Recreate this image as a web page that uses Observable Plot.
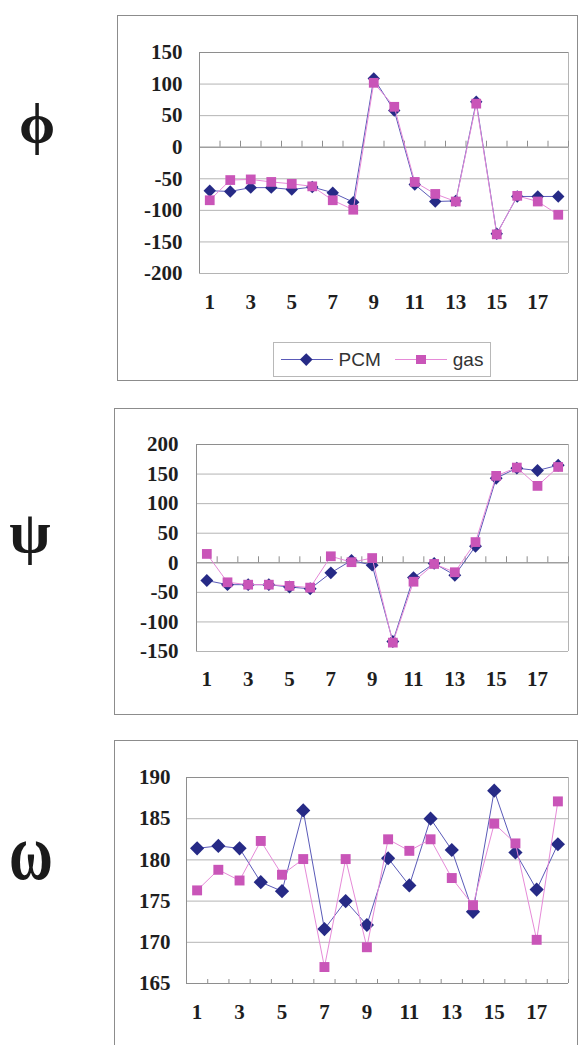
<!DOCTYPE html>
<html>
<head>
<meta charset="utf-8">
<script src="https://cdn.jsdelivr.net/npm/d3@7"></script>
<script src="https://cdn.jsdelivr.net/npm/@observablehq/plot@0.6"></script>
<style>
  html, body { margin: 0; padding: 0; background: #fff; }
  body { width: 580px; height: 1045px; overflow: hidden; position: relative; }
  .frame { position: absolute; border: 1.5px solid #8c8c8c; box-sizing: border-box; }
  .panel { position: absolute; left: 0; }
  .panel text { font-family: "Liberation Serif", "Times New Roman", serif; font-weight: bold; }
  .greek { position: absolute; font-family: "Liberation Serif", "DejaVu Serif", serif; color: #1a1a1a; line-height: 1; transform: translate(-50%, -50%); }
  .legend { position: absolute; border: 1px solid #b8b8b8; box-sizing: border-box; background: #fff;
            font-family: "Liberation Sans", Arial, sans-serif; font-size: 19px; color: #333;
            display: flex; align-items: center; justify-content: center; gap: 6px; }
  .sw { position: relative; display: inline-block; width: 52px; height: 12px; }
  .sw .ln { position: absolute; left: 0; right: 0; top: 5.5px; height: 0; border-top: 1px solid; }
  .sw .mk { position: absolute; left: 50%; top: 50%; }
</style>
</head>
<body>
<div id="root"></div>
<script>
// ---------------- data ----------------
const residues = [1,2,3,4,5,6,7,8,9,10,11,12,13,14,15,16,17,18];
const xTickLabels = [1,3,5,7,9,11,13,15,17];

const phiPCM = [-69,-70,-64,-64,-67,-63,-72,-87,109,58,-59,-86,-85,72,-137,-78,-78,-78];
const phiGas = [-84,-52,-51,-55,-58,-62,-84,-99,102,64,-55,-74,-86,69,-138,-77,-86,-107];
const phiTicks = [-200,-150,-100,-50,0,50,100,150];

const psiPCM = [-30,-37,-37,-37,-41,-44,-17,4,-4,-133,-25,-1,-21,28,143,160,156,165];
const psiGas = [15,-33,-37,-37,-39,-42,11,1,8,-135,-32,-2,-16,35,147,161,130,162];
const psiTicks = [-150,-100,-50,0,50,100,150,200];

const omegaPCM = [181.4,181.7,181.4,177.3,176.2,186.0,171.6,175.0,172.1,180.2,176.9,185.0,181.2,173.7,188.4,180.9,176.4,181.9];
const omegaGas = [176.3,178.8,177.5,182.3,178.2,180.1,167.0,180.1,169.4,182.5,181.1,182.5,177.8,174.5,184.4,182.0,170.3,187.1];
const omegaTicks = [165,170,175,180,185,190];

const seriesNames = ["PCM", "gas"];
// ---------------- styles ----------------
const pcmLine = "#5a5ab8", pcmMark = "#262a86";
const gasLine = "#e68ad8", gasMark = "#c955b8";
const gridColor = "#b4b4b4", axisColor = "#8e8e8e";
const tickFont = {fontFamily: "Liberation Serif", fontSize: 21, fontWeight: "bold"};
const fmt = d => String(d);   // plain hyphen-minus, as in the original

function addDiv(cls, css, html) {
  const d = document.createElement("div");
  d.className = cls;
  Object.assign(d.style, css);
  if (html != null) d.innerHTML = html;
  document.body.appendChild(d);
  return d;
}

function panel(cfg) {
  const pcm = residues.map((r, i) => ({r, v: cfg.pcm[i]}));
  const gas = residues.map((r, i) => ({r, v: cfg.gas[i]}));
  const ymin = cfg.ticks[0], ymax = cfg.ticks[cfg.ticks.length - 1];
  const bounds = d3.range(0.5, residues.length + 1, 1);
  const svg = Plot.plot({
    width: 580,
    height: cfg.height,
    marginTop: cfg.mt, marginBottom: cfg.mb, marginLeft: cfg.ml, marginRight: 12,
    style: {color: "#1e1e1e", background: "transparent", overflow: "visible", fontFamily: "Liberation Serif"},
    x: {domain: [0.5, residues.length + 0.5], label: null},
    y: {domain: [ymin, ymax], label: null},
    marks: [
      Plot.ruleY(cfg.ticks, {stroke: gridColor, strokeWidth: 1}),
      Plot.ruleY([ymax], {stroke: axisColor, strokeWidth: 1}),
      Plot.ruleX([residues.length + 0.5], {stroke: gridColor, strokeWidth: 1}),
      Plot.ruleX([0.5], {stroke: axisColor, strokeWidth: 1}),
      Plot.ruleY([cfg.base], {stroke: axisColor, strokeWidth: 1}),
      Plot.ruleX(bounds, {x: d => d, y1: cfg.base, y2: cfg.base, insetTop: -cfg.tick, stroke: axisColor, strokeWidth: 1}),
      Plot.axisY(cfg.ticks, {tickSize: 0, tickPadding: cfg.yp, label: null, tickFormat: fmt, ...tickFont}),
      Plot.axisX(xTickLabels, {tickSize: 0, tickPadding: cfg.xp, label: null, tickFormat: fmt, ...tickFont}),
      Plot.line(pcm, {x: "r", y: "v", stroke: pcmLine, strokeWidth: 1}),
      Plot.dot(pcm, {x: "r", y: "v", symbol: "diamond2", r: cfg.rd, fill: pcmMark, stroke: "none"}),
      Plot.line(gas, {x: "r", y: "v", stroke: gasLine, strokeWidth: 1}),
      Plot.dot(gas, {x: "r", y: "v", symbol: "square", r: cfg.rs, fill: gasMark, stroke: "none"})
    ]
  });
  svg.classList.add("panel");
  svg.style.top = cfg.top + "px";
  svg.style.position = "absolute";
  svg.style.left = "0px";
  document.body.appendChild(svg);
}

// frames
addDiv("frame", {left: "117px", top: "15px", width: "461px", height: "366px"});
addDiv("frame", {left: "114px", top: "408px", width: "464px", height: "307px"});
addDiv("frame", {left: "114px", top: "740px", width: "464px", height: "330px"});

panel({pcm: phiPCM, gas: phiGas, ticks: phiTicks, base: 0, top: 0, height: 380, mt: 52, mb: 107, ml: 199, yp: 17, xp: 21, tick: 6, rd: 5.6, rs: 5.5});
panel({pcm: psiPCM, gas: psiGas, ticks: psiTicks, base: 0, top: 400, height: 320, mt: 44, mb: 69, ml: 196, yp: 18, xp: 20, tick: 6, rd: 5.8, rs: 5.5});
panel({pcm: omegaPCM, gas: omegaGas, ticks: omegaTicks, base: 165, top: 730, height: 315, mt: 47, mb: 62, ml: 186, yp: 16, xp: 21, tick: 4, rd: 6.4, rs: 5.6});

// legend
const mkD = `<span class="mk" style="width:8.5px;height:8.5px;margin:-4.25px 0 0 -4.25px;background:${pcmMark};transform:rotate(45deg)"></span>`;
const mkS = `<span class="mk" style="width:9.5px;height:9.5px;margin:-4.75px 0 0 -4.75px;background:${gasMark}"></span>`;
addDiv("legend", {left: "273px", top: "342px", width: "218px", height: "35px"},
  `<span class="sw"><span class="ln" style="border-color:${pcmLine}"></span>${mkD}</span><span>${seriesNames[0]}</span>` +
  `<span class="sw" style="margin-left:8px"><span class="ln" style="border-color:${gasLine}"></span>${mkS}</span><span>${seriesNames[1]}</span>`);

// greek labels
addDiv("greek", {left: "37px", top: "124px", fontSize: "58px", fontWeight: "bold"}, "ϕ");
addDiv("greek", {left: "30px", top: "532px", fontSize: "60px", fontWeight: "bold"}, "ψ");
addDiv("greek", {left: "31px", top: "852px", fontSize: "60px", fontWeight: "bold", transform: "translate(-50%, -50%) scaleY(1.35)"}, "ω");
</script>
</body>
</html>
